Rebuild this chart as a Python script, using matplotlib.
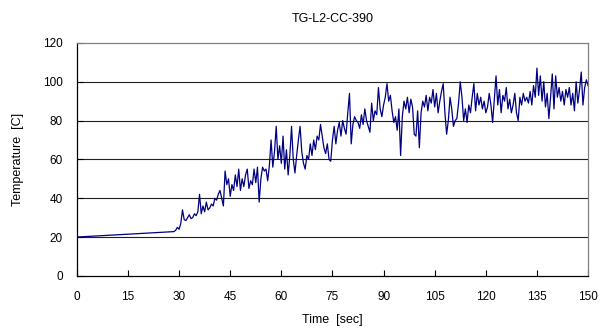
import numpy as np
import matplotlib.pyplot as plt

plt.rcParams["font.family"] = ["Liberation Sans", "DejaVu Sans"]

# time before sampling starts (straight segment), then samples every 0.5 s
t_start = [0, 28.5]
temp_start = [20, 22.8]
t_step = 0.5
t_first, t_last = 29, 150

temp = [
    23.5, 25, 24, 27, 34, 29, 28.5, 30, 31.5, 29.5,
    30, 32, 31, 33, 42, 32, 36, 33, 38, 34,
    35, 37, 36, 40, 39, 42, 44, 40, 36, 54,
    47, 50, 41, 47, 44, 52, 46, 55, 44, 50,
    46, 52, 55, 45, 49, 47, 55, 48, 56, 38,
    50, 56, 54, 55, 49, 57, 70, 56, 64, 77,
    60, 67, 58, 72, 55, 65, 52, 62, 77, 60,
    53, 62, 70, 77, 64, 58, 55, 62, 60, 68,
    62, 70, 65, 72, 70, 78, 72, 66, 63, 68,
    60, 59, 70, 77, 68, 75, 79, 72, 80, 76,
    73, 84, 94, 68, 78, 82, 80, 79, 76, 83,
    78, 86, 80, 77, 74, 89, 80, 85, 83, 97,
    86, 82, 88, 92, 99, 90, 93, 85, 79, 82,
    75, 86, 62, 82, 90, 86, 92, 84, 91, 87,
    73, 72, 85, 66, 84, 90, 87, 93, 85, 92,
    89, 96, 87, 94, 84, 90, 95, 99, 84, 73,
    80, 92, 86, 77, 80, 81, 89, 100, 92, 80,
    86, 79, 88, 84, 92, 99, 85, 94, 88, 92,
    86, 90, 84, 87, 94, 88, 79, 91, 103, 88,
    96, 84, 93, 90, 97, 86, 91, 84, 88, 94,
    84, 80, 92, 88, 94, 90, 92, 89, 95, 88,
    98, 92, 107, 93, 103, 90, 100, 87, 94, 81,
    92, 104, 86, 103, 92, 97, 90, 95, 88, 96,
    92, 97, 88, 94, 85, 100, 89, 96, 105, 88,
    97, 101, 98,
]

t = np.concatenate([t_start, np.arange(t_first, t_last + 0.01, t_step)])
y = np.concatenate([temp_start, temp])

fig = plt.figure(figsize=(6.05, 3.3), dpi=100)
ax = fig.add_axes([0.127, 0.164, 0.845, 0.706])

for g in range(20, 120, 20):
    ax.axhline(g, color="#202020", lw=0.8, zorder=1)

ax.plot(t, y, color="#000080", lw=0.9, zorder=2)

ax.set_xlim(0, 150)
ax.set_ylim(0, 120)
ax.set_xticks(range(0, 151, 15))
ax.set_yticks(range(0, 121, 20))
ax.tick_params(direction="in", length=4, width=0.8, labelsize=8.5, colors="black")
ax.tick_params(axis="x", pad=11)
ax.tick_params(axis="y", pad=10)

for s in ["left", "bottom"]:
    ax.spines[s].set_color("black")
    ax.spines[s].set_linewidth(0.9)
for s in ["top", "right"]:
    ax.spines[s].set_color("#808080")
    ax.spines[s].set_linewidth(0.9)

ax.set_title("TG-L2-CC-390", fontsize=9, pad=15)
ax.set_xlabel("Time  [sec]", fontsize=9, labelpad=8)
ax.set_ylabel("Temperature  [C]", fontsize=9, labelpad=14)

fig.savefig("out.png", dpi=100)
